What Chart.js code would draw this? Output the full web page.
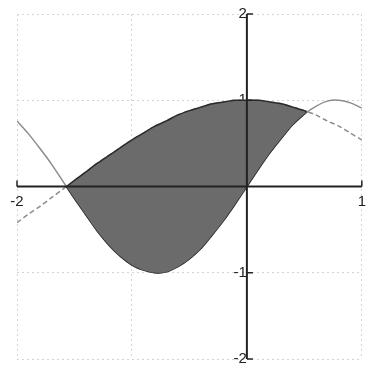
<!DOCTYPE html>
<html>
<head>
<meta charset="utf-8">
<script src="https://cdn.jsdelivr.net/npm/chart.js@4/dist/chart.umd.min.js"></script>
<style>
  html, body { margin: 0; padding: 0; background: #fff; overflow: hidden; }
  #wrap { width: 372px; height: 373px; }
</style>
</head>
<body>
<div id="wrap"><canvas id="plot"></canvas></div>
<script>
// sample positions along x
const xs = [-2.0, -1.9, -1.8, -1.7, -1.6, -1.5, -1.4, -1.3, -1.2, -1.1, -1.0,
            -0.9, -0.8, -0.7, -0.6, -0.5, -0.4, -0.3, -0.2, -0.1, 0.0,
             0.1,  0.2,  0.3,  0.4,  0.5,  0.6,  0.7,  0.8,  0.9, 1.0];
// the wave that dips to -1 (solid)
const waveA = [0.76, 0.61, 0.44, 0.26, 0.06, -0.14, -0.33, -0.52, -0.68, -0.81, -0.91,
              -0.97, -1.00, -0.99, -0.93, -0.84, -0.72, -0.56, -0.39, -0.20, 0.00,
               0.20, 0.39, 0.56, 0.72, 0.84, 0.93, 0.99, 1.00, 0.97, 0.91];
// the hump that peaks at 1 near x=0 (dashed)
const waveB = [-0.42, -0.32, -0.23, -0.13, -0.03, 0.07, 0.17, 0.27, 0.36, 0.45, 0.54,
               0.62, 0.70, 0.76, 0.83, 0.88, 0.92, 0.96, 0.98, 1.00, 1.00,
               1.00, 0.98, 0.96, 0.92, 0.88, 0.83, 0.76, 0.70, 0.62, 0.54];
// where the two curves cross (ends of the shaded piece)
const crossLeft = [-1.57, 0.00];
const crossRight = [0.52, 0.87];

const xTicks = [-2, -1, 0, 1];
const yTicks = [-2, -1, 0, 1, 2];
const xLabels = {'-2': '-2', '1': '1'};
const yLabels = {'-2': '-2', '-1': '-1', '1': '1', '2': '2'};

function toPoints(ys){
    return xs.map(function(x, i){ return {x: x, y: ys[i]}; });
}
function region(ys){
    var pts = [{x: crossLeft[0], y: crossLeft[1]}];
    xs.forEach(function(x, i){
        if(x > crossLeft[0] && x < crossRight[0]) pts.push({x: x, y: ys[i]});
    });
    pts.push({x: crossRight[0], y: crossRight[1]});
    return pts;
}

// axis lines through the origin, with short inward ticks at the labelled values
const axesPlugin = {
    id: 'axesThroughOrigin',
    afterDatasetsDraw: function(chart){
        const ctx = chart.ctx;
        const sx = chart.scales.x, sy = chart.scales.y;
        const x0 = sx.getPixelForValue(0), y0 = sy.getPixelForValue(0);
        ctx.save();
        ctx.strokeStyle = '#222';
        ctx.lineWidth = 2;
        ctx.beginPath();
        ctx.moveTo(sx.getPixelForValue(-2), y0);
        ctx.lineTo(sx.getPixelForValue(1), y0);
        ctx.moveTo(x0, sy.getPixelForValue(2));
        ctx.lineTo(x0, sy.getPixelForValue(-2));
        ctx.stroke();
        ctx.lineWidth = 1.5;
        ctx.beginPath();
        xTicks.forEach(function(v){
            if(!xLabels[String(v)]) return;
            const px = sx.getPixelForValue(v);
            ctx.moveTo(px, y0);
            ctx.lineTo(px, y0 - 6);
        });
        yTicks.forEach(function(v){
            if(!yLabels[String(v)]) return;
            const py = sy.getPixelForValue(v);
            ctx.moveTo(x0, py);
            ctx.lineTo(x0 + 6, py);
        });
        ctx.stroke();
        ctx.restore();
    }
};

const ctx = document.getElementById('plot').getContext('2d');
const chart = new Chart(ctx, {
    type: 'line',
    data: {
        datasets: [{
            label: 'region top',
            data: region(waveB),
            borderColor: '#2a2a2a',
            borderWidth: 1.5,
            backgroundColor: '#6b6b6b',
            fill: '+1',
            tension: 0.3,
            pointRadius: 0
        },
        {
            label: 'region bottom',
            data: region(waveA),
            borderColor: '#2a2a2a',
            borderWidth: 1.5,
            fill: false,
            tension: 0.3,
            pointRadius: 0
        },
        {
            label: 'wave A',
            data: toPoints(waveA),
            borderColor: '#8c8c8c',
            borderWidth: 1.5,
            fill: false,
            tension: 0.3,
            pointRadius: 0
        },
        {
            label: 'wave B',
            data: toPoints(waveB),
            borderColor: '#8c8c8c',
            borderWidth: 1.5,
            borderDash: [5, 3],
            fill: false,
            tension: 0.3,
            pointRadius: 0
        }]
    },
    options: {
        responsive: true,
        maintainAspectRatio: false,
        animation: false,
        layout: { padding: {left: 17, right: 0, top: 10, bottom: 2} },
        plugins: {
            legend: { display: false },
            tooltip: { enabled: false }
        },
        scales: {
            x: {
                type: 'linear',
                position: {y: 0},
                min: -2,
                max: 1,
                afterBuildTicks: function(scale){
                    scale.ticks = xTicks.map(function(v){ return {value: v}; });
                },
                grid: { color: '#d4d4d4', lineWidth: 1, drawTicks: false },
                border: { display: false, dash: [2, 3] },
                ticks: {
                    padding: 6,
                    color: '#222',
                    font: { family: 'Liberation Sans', size: 15 },
                    maxRotation: 0,
                    callback: function(v){ return xLabels[String(v)] || ''; }
                }
            },
            y: {
                type: 'linear',
                position: {x: 0},
                min: -2,
                max: 2,
                afterBuildTicks: function(scale){
                    scale.ticks = yTicks.map(function(v){ return {value: v}; });
                },
                grid: { color: '#d4d4d4', lineWidth: 1, drawTicks: false },
                border: { display: false, dash: [2, 3] },
                ticks: {
                    padding: 5,
                    color: '#222',
                    font: { family: 'Liberation Sans', size: 15 },
                    callback: function(v){ return yLabels[String(v)] || ''; }
                }
            }
        }
    },
    plugins: [axesPlugin]
});
</script>
</body>
</html>
